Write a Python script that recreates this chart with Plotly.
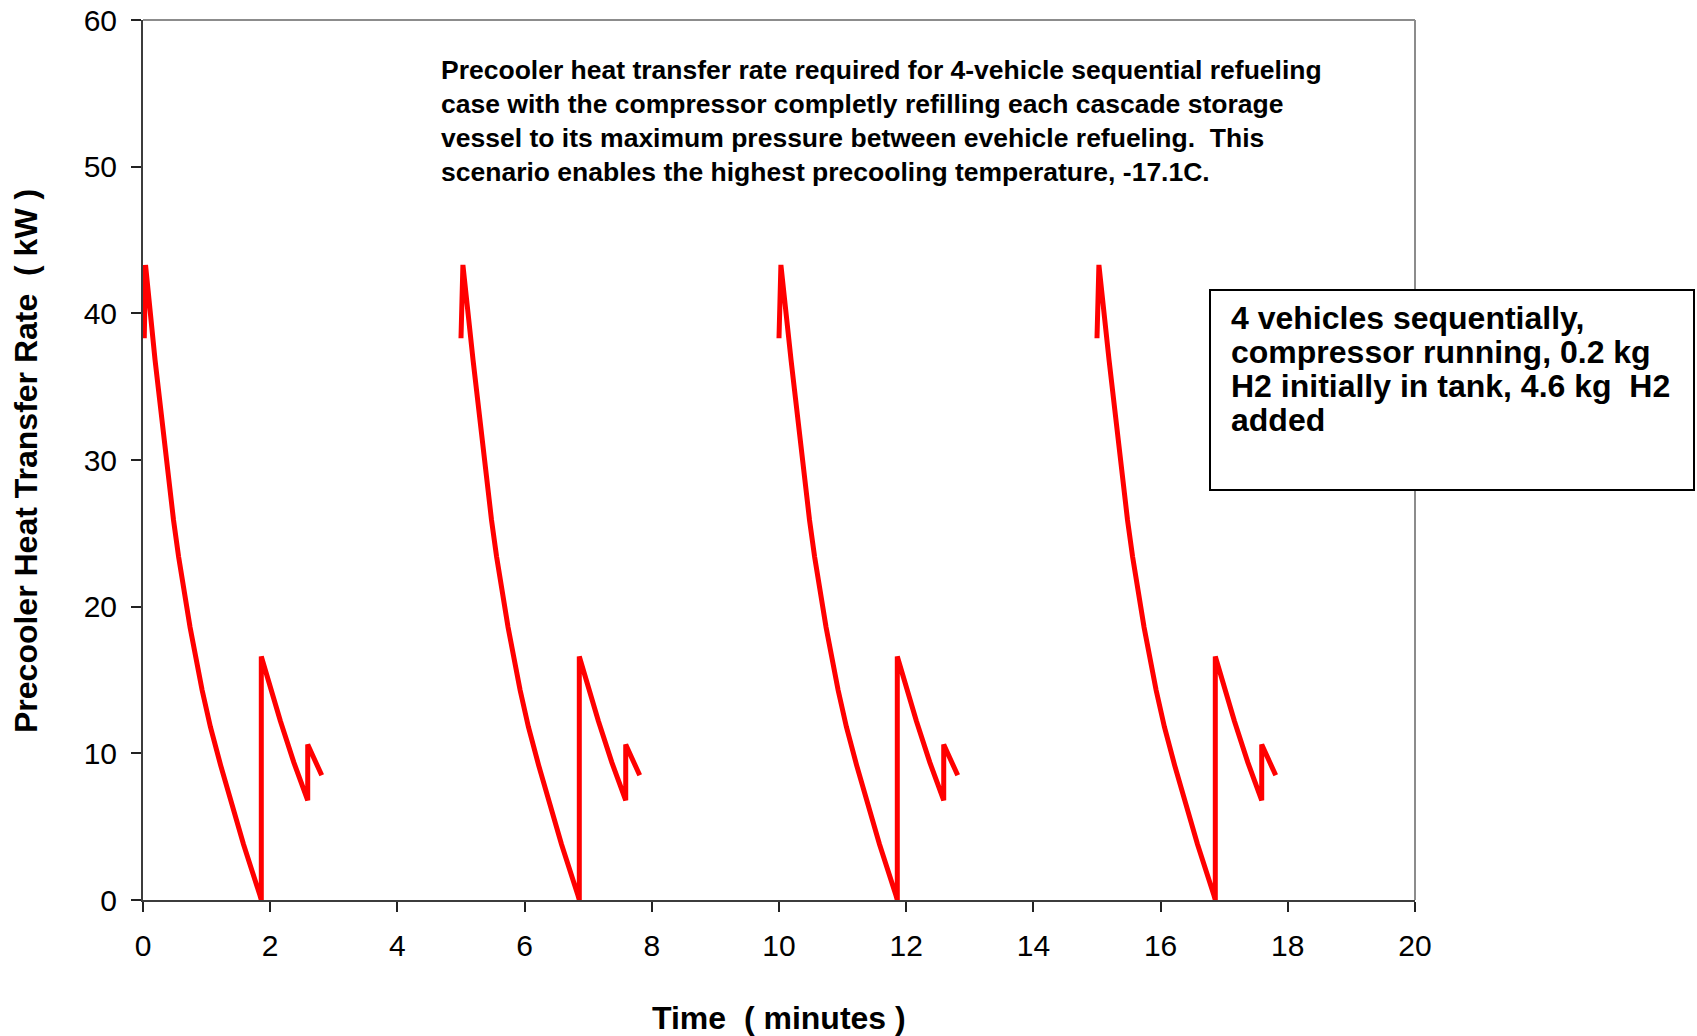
import plotly.graph_objects as go

# ---- data (time in minutes, heat transfer rate in kW) ----
veh1_t = [0.02, 0.04, 0.19, 0.38, 0.48, 0.56, 0.64, 0.74, 0.93, 1.06, 1.22, 1.37, 1.58, 1.84, 1.86, 1.86, 1.99, 2.16, 2.37, 2.59, 2.59, 2.81]
veh2_t = [5.00, 5.03, 5.19, 5.38, 5.48, 5.56, 5.64, 5.74, 5.93, 6.06, 6.22, 6.37, 6.58, 6.84, 6.86, 6.86, 6.99, 7.16, 7.37, 7.59, 7.59, 7.81]
veh3_t = [10.00, 10.03, 10.19, 10.38, 10.48, 10.56, 10.64, 10.74, 10.93, 11.06, 11.22, 11.37, 11.58, 11.84, 11.86, 11.86, 11.99, 12.16, 12.37, 12.59, 12.59, 12.81]
veh4_t = [15.00, 15.03, 15.19, 15.38, 15.48, 15.56, 15.64, 15.74, 15.93, 16.06, 16.22, 16.37, 16.58, 16.84, 16.86, 16.86, 16.99, 17.16, 17.37, 17.59, 17.59, 17.81]

veh1_q = [38.3, 43.3, 36.8, 29.3, 25.9, 23.4, 21.1, 18.6, 14.3, 11.8, 9.2, 6.9, 3.8, 0.3, 0.0, 16.6, 14.6, 12.2, 9.4, 6.8, 10.6, 8.5]
veh2_q = [38.3, 43.3, 36.8, 29.3, 25.9, 23.4, 21.1, 18.6, 14.3, 11.8, 9.2, 6.9, 3.8, 0.3, 0.0, 16.6, 14.6, 12.2, 9.4, 6.8, 10.6, 8.5]
veh3_q = [38.3, 43.3, 36.8, 29.3, 25.9, 23.4, 21.1, 18.6, 14.3, 11.8, 9.2, 6.9, 3.8, 0.3, 0.0, 16.6, 14.6, 12.2, 9.4, 6.8, 10.6, 8.5]
veh4_q = [38.3, 43.3, 36.8, 29.3, 25.9, 23.4, 21.1, 18.6, 14.3, 11.8, 9.2, 6.9, 3.8, 0.3, 0.0, 16.6, 14.6, 12.2, 9.4, 6.8, 10.6, 8.5]

x_ticks = [0, 2, 4, 6, 8, 10, 12, 14, 16, 18, 20]
y_ticks = [0, 10, 20, 30, 40, 50, 60]

x_title = "Time  ( minutes )"
y_title = "Precooler Heat Transfer Rate  ( kW )"

note_lines = [
    "Precooler heat transfer rate required for 4-vehicle sequential refueling",
    "case with the compressor completly refilling each cascade storage",
    "vessel to its maximum pressure between evehicle refueling.  This",
    "scenario enables the highest precooling temperature, -17.1C.",
]
box_lines = [
    "4 vehicles sequentially,",
    "compressor running, 0.2 kg",
    "H2 initially in tank, 4.6 kg  H2",
    "added",
]

# ---- layout geometry (pixels) ----
W, H = 1697, 1036
L, R, T, B = 143, 282, 20, 136
PW = W - L - R
PH = H - T - B


def px_x(px):
    return (px - L) / PW


def px_y(py):
    return (H - B - py) / PH


FONT = "Liberation Sans, Arial, Helvetica, sans-serif"

fig = go.Figure()
for tt, qq in [(veh1_t, veh1_q), (veh2_t, veh2_q), (veh3_t, veh3_q), (veh4_t, veh4_q)]:
    fig.add_trace(go.Scatter(
        x=tt, y=qq, mode="lines",
        line=dict(color="#ff0000", width=5),
        showlegend=False, hoverinfo="x+y",
    ))

axis_common = dict(
    showgrid=False, zeroline=False, showline=True, automargin=False,
    linecolor="#3c3c3c", linewidth=2,
    ticks="outside", ticklen=10, tickwidth=1.5, tickcolor="#222222",
    tickfont=dict(family=FONT, size=30, color="#000000"),
)

fig.update_layout(
    width=W, height=H,
    margin=dict(l=L, r=R, t=T, b=B, pad=0, autoexpand=False),
    paper_bgcolor="#ffffff", plot_bgcolor="#ffffff",
    xaxis=dict(range=[0, 20], tickvals=x_ticks, ticktext=[str(v) for v in x_ticks],
               ticklabelstandoff=8, **axis_common),
    yaxis=dict(range=[0, 60], tickvals=y_ticks, ticktext=[str(v) for v in y_ticks],
               ticklabelstandoff=8, **axis_common),
)

shapes = [
    # top and right frame (lighter grey)
    dict(type="line", xref="paper", yref="paper", x0=0, x1=1, y0=1, y1=1,
         line=dict(color="#8c8c8c", width=2), layer="below"),
    dict(type="line", xref="paper", yref="paper", x0=1, x1=1, y0=0, y1=1,
         line=dict(color="#8c8c8c", width=2), layer="below"),
    # legend-style text box
    dict(type="rect", xref="paper", yref="paper",
         x0=px_x(1210), x1=px_x(1694), y0=px_y(490), y1=px_y(290),
         fillcolor="#ffffff", line=dict(color="#000000", width=2), layer="above"),
]
fig.update_layout(shapes=shapes)

annotations = []
note_y = [70.5, 104.3, 138.1, 172.0]
for txt, py in zip(note_lines, note_y):
    annotations.append(dict(
        text="<b>" + txt + "</b>", xref="paper", yref="paper",
        x=px_x(439), y=px_y(py), xanchor="left", yanchor="middle",
        showarrow=False, font=dict(family=FONT, size=26.5, color="#000000"),
    ))
box_y = [318, 352, 386, 420]
for txt, py in zip(box_lines, box_y):
    annotations.append(dict(
        text="<b>" + txt + "</b>", xref="paper", yref="paper",
        x=px_x(1229), y=px_y(py), xanchor="left", yanchor="middle",
        showarrow=False, font=dict(family=FONT, size=32, color="#000000"),
    ))
annotations.append(dict(
    text="<b>" + x_title + "</b>", xref="paper", yref="paper",
    x=px_x(779), y=px_y(1018), xanchor="center", yanchor="middle",
    showarrow=False, font=dict(family=FONT, size=32, color="#000000"),
))
annotations.append(dict(
    text="<b>" + y_title + "</b>", xref="paper", yref="paper",
    x=px_x(26), y=px_y(461), xanchor="center", yanchor="middle", textangle=-90,
    showarrow=False, font=dict(family=FONT, size=32, color="#000000"),
))
fig.update_layout(annotations=annotations)

fig.write_html("out.html")
